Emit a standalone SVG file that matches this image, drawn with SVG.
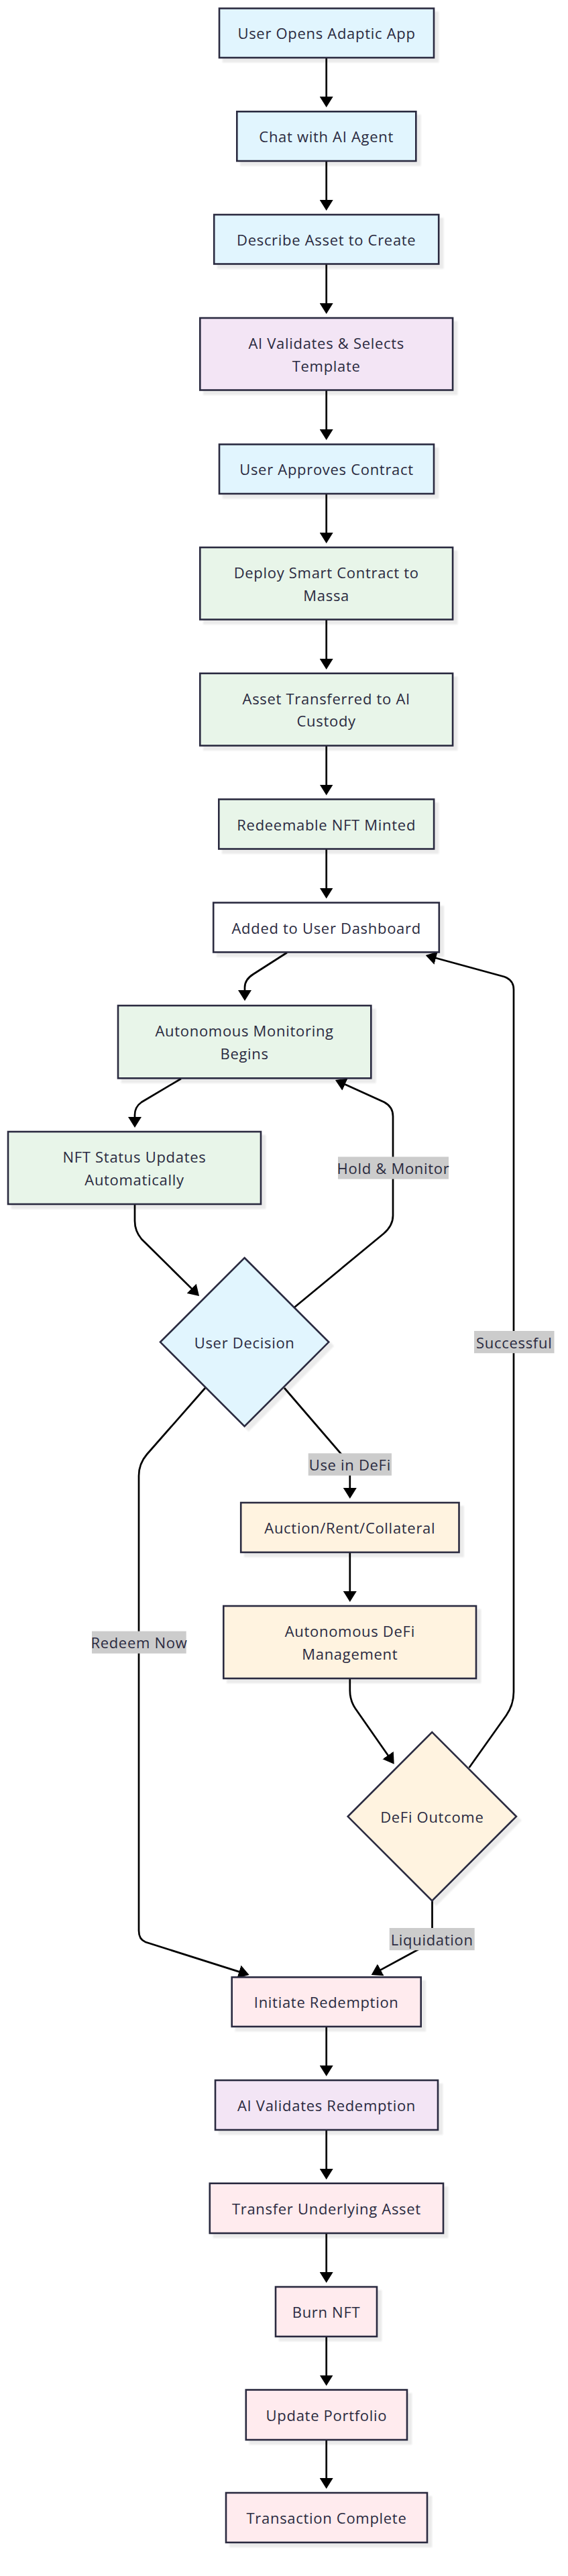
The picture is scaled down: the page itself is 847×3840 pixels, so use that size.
<svg xmlns="http://www.w3.org/2000/svg" width="847" height="3840" viewBox="0 0 847 3840">
<style>
.node rect, .node polygon { stroke:#2b2b40; stroke-width:2.6; filter:url(#sh); }
text { font-family:"Open Sans","Noto Sans","DejaVu Sans",sans-serif; font-size:22px; letter-spacing:0.7px; fill:#2a2a40; text-anchor:middle; dominant-baseline:central; }
.blue { fill:#e1f5fe; }
.purple { fill:#f3e5f5; }
.green { fill:#e8f5e9; }
.orange { fill:#fff3e0; }
.pink { fill:#ffebee; }
.white { fill:#ffffff; }
.edge { fill:none; stroke:#000; stroke-width:2.7; marker-end:url(#arrow); }
.lbl rect { fill:#cccccc; }
</style>
<defs>
<marker id="arrow" viewBox="0 0 16 20" refX="13" refY="10" markerWidth="16" markerHeight="20" markerUnits="userSpaceOnUse" orient="auto"><path d="M0,0 L16,10 L0,20 z" fill="#000"/></marker>
<filter id="sh" x="-10%" y="-10%" width="130%" height="140%"><feDropShadow dx="6" dy="6" stdDeviation="1.2" flood-color="#000" flood-opacity="0.08"/></filter>
</defs>
<rect width="847" height="3840" fill="#ffffff"/>

<g id="edges">
<path class="edge" d="M486.7,86 L486.7,157"/>
<path class="edge" d="M486.7,240 L486.7,311"/>
<path class="edge" d="M486.7,393.5 L486.7,465"/>
<path class="edge" d="M486.7,581.5 L486.7,653"/>
<path class="edge" d="M486.7,736 L486.7,807"/>
<path class="edge" d="M486.7,923.5 L486.7,995"/>
<path class="edge" d="M486.7,1111.5 L486.7,1182.5"/>
<path class="edge" d="M486.7,1265.5 L486.7,1336.5"/>
<path class="edge" d="M428,1420 L378,1452 Q365,1460 365,1472 L365,1489"/>
<path class="edge" d="M270,1608 L211,1643 Q201,1650 201,1662 L201,1678"/>
<path class="edge" d="M201,1795 L201,1820 Q201,1835 211,1847 L294.9,1929.9"/>
<path class="edge" d="M437.6,1950 L572,1839 Q586,1827 586,1812 L586,1664 Q586,1650 573,1643 L502.7,1611.2"/>
<path class="edge" d="M424,2069 L511,2170 Q521.8,2183 521.8,2196 L521.8,2231"/>
<path class="edge" d="M521.8,2314 L521.8,2385"/>
<path class="edge" d="M521.8,2502 L521.8,2520 Q521.8,2535 530,2547 L586,2627.3"/>
<path class="edge" d="M699.6,2635 L755,2557 Q766,2541 766,2522 L766,1475 Q766,1461 752,1456 L637.6,1424.8"/>
<path class="edge" d="M306,2069 L219,2168 Q207,2182 207,2200 L207,2878 Q207,2891 217,2895 L368.8,2943.1"/>
<path class="edge" d="M644.5,2833 L644.5,2882 Q644.5,2893 633,2901 L556.3,2942.6"/>
<path class="edge" d="M486.7,3021 L486.7,3092"/>
<path class="edge" d="M486.7,3175 L486.7,3246"/>
<path class="edge" d="M486.7,3329 L486.7,3400"/>
<path class="edge" d="M486.7,3483 L486.7,3553.5"/>
<path class="edge" d="M486.7,3637 L486.7,3707"/>
</g>

<g id="edge-labels">
<g class="lbl" id="lbl-hold"><rect x="504" y="1724.4" width="165" height="33.2"/><text x="586.5" y="1741">Hold &amp; Monitor</text></g>
<g class="lbl" id="lbl-successful"><rect x="707" y="1984" width="119.5" height="33.2"/><text x="766.7" y="2000.6">Successful</text></g>
<g class="lbl" id="lbl-defi"><rect x="459.7" y="2166.4" width="124.3" height="33.2"/><text x="521.8" y="2183">Use in DeFi</text></g>
<g class="lbl" id="lbl-redeem"><rect x="137" y="2431.6" width="140.7" height="33.2"/><text x="207.4" y="2448">Redeem Now</text></g>
<g class="lbl" id="lbl-liquidation"><rect x="580.7" y="2874" width="127" height="33.2"/><text x="644.2" y="2890.5">Liquidation</text></g>
</g>

<g id="n-open" class="node"><rect class="blue" x="327" y="12.5" width="320" height="73.5"/><text x="487" y="49.2">User Opens Adaptic App</text></g>
<g id="n-chat" class="node"><rect class="blue" x="353.3" y="166.3" width="267" height="73.7"/><text x="486.7" y="203">Chat with AI Agent</text></g>
<g id="n-describe" class="node"><rect class="blue" x="319.2" y="320" width="335" height="73.5"/><text x="486.7" y="356.8">Describe Asset to Create</text></g>
<g id="n-template" class="node"><rect class="purple" x="298.3" y="474" width="376.8" height="107.5"/><text x="486.7" y="511">AI Validates &amp; Selects</text><text x="486.7" y="544.5">Template</text></g>
<g id="n-approve" class="node"><rect class="blue" x="327" y="662.4" width="320" height="73.6"/><text x="487" y="699.2">User Approves Contract</text></g>
<g id="n-deploy" class="node"><rect class="green" x="298.3" y="816" width="376.8" height="107.5"/><text x="486.7" y="853">Deploy Smart Contract to</text><text x="486.7" y="886.5">Massa</text></g>
<g id="n-custody" class="node"><rect class="green" x="298.3" y="1003.8" width="376.8" height="107.7"/><text x="486.7" y="1040.9">Asset Transferred to AI</text><text x="486.7" y="1074.4">Custody</text></g>
<g id="n-minted" class="node"><rect class="green" x="326.3" y="1191.5" width="320.8" height="74"/><text x="486.7" y="1228.5">Redeemable NFT Minted</text></g>
<g id="n-dashboard" class="node"><rect class="white" x="318.2" y="1345.6" width="336.6" height="73.8"/><text x="486.7" y="1382.5">Added to User Dashboard</text></g>
<g id="n-monitoring" class="node"><rect class="green" x="176" y="1499" width="377.3" height="108.3"/><text x="364.6" y="1536.4">Autonomous Monitoring</text><text x="364.6" y="1569.9">Begins</text></g>
<g id="n-status" class="node"><rect class="green" x="12" y="1687" width="377" height="108"/><text x="200.5" y="1724.3">NFT Status Updates</text><text x="200.5" y="1757.8">Automatically</text></g>
<g id="n-decision" class="node"><polygon class="blue" points="364.6,1875 490.2,2000.6 364.6,2126.2 239,2000.6"/><text x="364.6" y="2000.6">User Decision</text></g>
<g id="n-auction" class="node"><rect class="orange" x="359.2" y="2240" width="325.3" height="74"/><text x="521.8" y="2277">Auction/Rent/Collateral</text></g>
<g id="n-defimgmt" class="node"><rect class="orange" x="333.3" y="2394" width="376.7" height="108"/><text x="521.8" y="2431.3">Autonomous DeFi</text><text x="521.8" y="2464.8">Management</text></g>
<g id="n-outcome" class="node"><polygon class="orange" points="644.3,2582.2 769.9,2707.8 644.3,2833.4 518.7,2707.8"/><text x="644.3" y="2707.8">DeFi Outcome</text></g>
<g id="n-initiate" class="node"><rect class="pink" x="345.7" y="2947.4" width="282" height="73.6"/><text x="486.7" y="2984.2">Initiate Redemption</text></g>
<g id="n-aivalidate" class="node"><rect class="purple" x="321" y="3101" width="332" height="74"/><text x="487" y="3138">AI Validates Redemption</text></g>
<g id="n-transfer" class="node"><rect class="pink" x="312.8" y="3254.7" width="348.2" height="74.3"/><text x="486.9" y="3291.8">Transfer Underlying Asset</text></g>
<g id="n-burn" class="node"><rect class="pink" x="411" y="3409" width="151" height="74"/><text x="486.5" y="3446">Burn NFT</text></g>
<g id="n-portfolio" class="node"><rect class="pink" x="366.8" y="3562.5" width="240.2" height="74.5"/><text x="486.9" y="3599.7">Update Portfolio</text></g>
<g id="n-complete" class="node"><rect class="pink" x="337" y="3716" width="300" height="74"/><text x="487" y="3753">Transaction Complete</text></g>
</svg>
